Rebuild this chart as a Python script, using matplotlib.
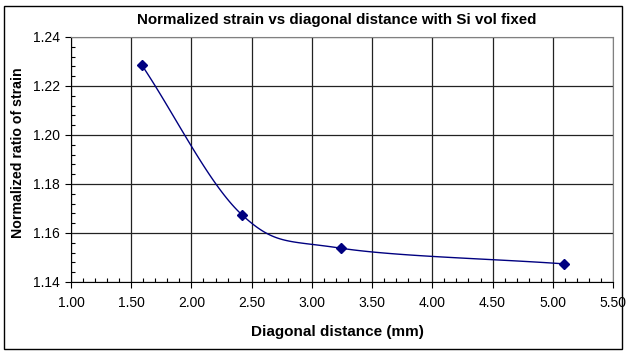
import numpy as np
import matplotlib
matplotlib.use("Agg")
import matplotlib.pyplot as plt
from matplotlib.ticker import MultipleLocator, FormatStrFormatter
from matplotlib.patches import Rectangle

plt.rcParams['font.family'] = ['Liberation Sans', 'DejaVu Sans']

# data
diag_mm = [1.59, 2.42, 3.24, 5.095]
strain_ratio = [1.2284, 1.1674, 1.1538, 1.1474]


def smooth_curve(xs, ys, n=40):
    # Catmull-Rom style smoothing, similar to a spreadsheet "smoothed line"
    px = np.array(xs, dtype=float)
    py = np.array(ys, dtype=float)
    px = np.concatenate([[2 * px[0] - px[1]], px, [2 * px[-1] - px[-2]]])
    py = np.concatenate([[2 * py[0] - py[1]], py, [2 * py[-1] - py[-2]]])
    outx, outy = [], []
    t = np.linspace(0, 1, n)
    for i in range(1, len(px) - 2):
        for arr, out in ((px, outx), (py, outy)):
            p0, p1, p2, p3 = arr[i - 1], arr[i], arr[i + 1], arr[i + 2]
            c1 = p1 + (p2 - p0) / 6
            c2 = p2 - (p3 - p1) / 6
            out.extend((1 - t) ** 3 * p1 + 3 * (1 - t) ** 2 * t * c1
                       + 3 * (1 - t) * t ** 2 * c2 + t ** 3 * p2)
    return outx, outy


fig = plt.figure(figsize=(6.26, 3.52), dpi=100)
ax = fig.add_axes([71 / 626, 1 - 282 / 352, (613 - 71) / 626, (282 - 37) / 352])

fig.patches.append(Rectangle((4 / 626, 3 / 352), 618 / 626, 343 / 352,
                             transform=fig.transFigure, fill=False,
                             edgecolor='black', linewidth=1.0))

sx, sy = smooth_curve(diag_mm, strain_ratio)
ax.plot(sx, sy, color='#000080', linewidth=1.0, zorder=3)
ax.plot(diag_mm, strain_ratio, linestyle='none', marker='D', markersize=5,
        color='#000080', zorder=4)

ax.set_xlim(1.0, 5.5)
ax.set_ylim(1.14, 1.24)
ax.xaxis.set_major_locator(MultipleLocator(0.5))
ax.xaxis.set_minor_locator(MultipleLocator(0.1))
ax.yaxis.set_major_locator(MultipleLocator(0.02))
ax.yaxis.set_minor_locator(MultipleLocator(0.004))
ax.xaxis.set_major_formatter(FormatStrFormatter('%.2f'))
ax.yaxis.set_major_formatter(FormatStrFormatter('%.2f'))

ax.grid(True, which='major', color='#222222', linewidth=0.9)
ax.tick_params(which='major', direction='out', length=4, width=0.8,
               labelsize=10)
ax.tick_params(which='minor', direction='in', length=3, width=0.8)
ax.tick_params(axis='x', which='major', pad=6)
ax.tick_params(axis='y', which='major', pad=4)
ax.tick_params(top=False, right=False)
for side in ('top', 'right'):
    ax.spines[side].set_color('#808080')
for side in ('left', 'bottom'):
    ax.spines[side].set_color('black')

fig.text(337 / 626, 1 - 332 / 352, 'Diagonal distance (mm)',
         ha='center', va='center', fontsize=11, fontweight='bold')
fig.text(18 / 626, 1 - 153 / 352, 'Normalized ratio of strain', rotation=90,
         ha='center', va='center', fontsize=10.2, fontweight='bold')
fig.text(337 / 626, 1 - 20 / 352,
         'Normalized strain vs diagonal distance with Si vol fixed',
         ha='center', va='center', fontsize=10.9, fontweight='bold')

fig.savefig('out.png', dpi=100)
